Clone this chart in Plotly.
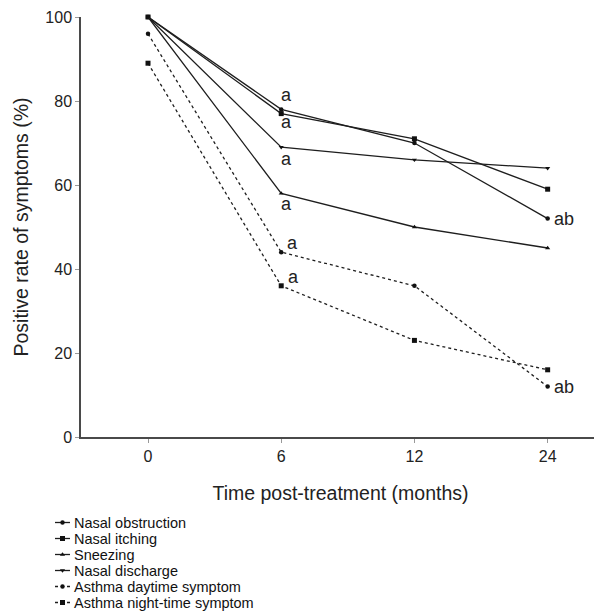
import plotly.graph_objects as go

months = ["0", "6", "12", "24"]
series_names = ["Nasal obstruction", "Nasal itching", "Sneezing", "Nasal discharge",
                "Asthma daytime symptom", "Asthma night-time symptom"]
nasal_obstruction = [100, 78, 70, 52]
nasal_itching = [100, 77, 71, 59]
sneezing = [100, 58, 50, 45]
nasal_discharge = [100, 69, 66, 64]
asthma_daytime = [96, 44, 36, 12]
asthma_night = [89, 36, 23, 16]

# significance labels: (category index, y value, text)
sig_labels = [(1, 81.4, "a"), (1, 75, "a"), (1, 66.2, "a"), (1, 55.5, "a"),
              (1, 46.2, "a"), (1, 38.1, "a"), (3, 52, "ab"), (3, 12, "ab")]
sig_xshift = [5, 5, 5, 5, 11, 12, 16, 16]

values = [nasal_obstruction, nasal_itching, sneezing, nasal_discharge, asthma_daytime, asthma_night]
symbols = ["circle", "square", "triangle-up", "triangle-down", "circle", "square"]
msizes = [4.5, 5, 4.5, 4.5, 4.5, 5]
dashes = ["solid", "solid", "solid", "solid", "dot", "dot"]

# the page places the figure 8px from the top-left corner of the window
OFF = 8
W, H = 602 - OFF, 612 - OFF
FONT = "Liberation Sans, Arial, sans-serif"
fig = go.Figure()
for name, vals, sym, ms, dash in zip(series_names, values, symbols, msizes, dashes):
    fig.add_trace(go.Scatter(
        x=months, y=vals, name=name, mode="lines+markers",
        line=dict(color="#1e1e1e", width=1.3, dash=dash),
        marker=dict(symbol=sym, size=ms, color="#111111"),
        cliponaxis=False, showlegend=False, xaxis="x", yaxis="y",
    ))

for (mx, my, txt), xs in zip(sig_labels, sig_xshift):
    fig.add_annotation(x=mx, y=my, xref="x", yref="y", text=txt, showarrow=False, xshift=xs,
                       xanchor="center", yanchor="middle",
                       font=dict(size=18, color="#222", family=FONT))

# compact legend drawn in a window-pixel-scaled helper subplot at the bottom
leg_rows = [522.5, 538.5, 554.5, 570.5, 586.5, 602.5]
for name, sym, ms, dash, ry in zip(series_names, symbols, msizes, dashes, leg_rows):
    fig.add_trace(go.Scatter(
        x=[55, 63, 70], y=[ry, ry, ry], mode="lines", showlegend=False,
        line=dict(color="#1e1e1e", width=1.3, dash=dash), xaxis="x2", yaxis="y2",
        hoverinfo="skip"))
    fig.add_trace(go.Scatter(
        x=[62.5], y=[ry], mode="markers", showlegend=False,
        marker=dict(symbol=sym, size=ms, color="#111"), xaxis="x2", yaxis="y2",
        hoverinfo="skip"))
    fig.add_annotation(x=71.5, y=ry, xref="x2", yref="y2", text=name, showarrow=False,
                       xanchor="left", yanchor="middle",
                       font=dict(size=14.5, color="#111", family=FONT))

fig.update_layout(
    width=W, height=H, autosize=False,
    margin=dict(l=0, r=0, t=0, b=0),
    paper_bgcolor="white", plot_bgcolor="rgba(0,0,0,0)",
    font=dict(family=FONT, color="#222", size=16),
    showlegend=False,
    xaxis=dict(type="category", domain=[(81 - OFF) / W, (600 - OFF) / W], anchor="y",
               range=[-0.503, 3.393], showline=True, linecolor="#4a4a4a",
               linewidth=1.5, ticks="outside", ticklen=4, tickcolor="#999",
               showgrid=False, zeroline=False, tickfont=dict(size=16, color="#222"),
               automargin=False,
               title=dict(text="Time post-treatment (months)", font=dict(size=19.5), standoff=22)),
    yaxis=dict(domain=[(612 - 437) / H, (612 - 17) / H], anchor="x",
               range=[0, 100], showline=True, linecolor="#4a4a4a", linewidth=1.5,
               ticks="outside", ticklen=4, tickcolor="#999", tickvals=[0, 20, 40, 60, 80, 100],
               showgrid=False, zeroline=False, tickfont=dict(size=16, color="#222"),
               automargin=False,
               title=dict(text="Positive rate of symptoms (%)", font=dict(size=19.5), standoff=12)),
    xaxis2=dict(domain=[0, 1], range=[OFF, 602], anchor="y2", visible=False, fixedrange=True),
    yaxis2=dict(domain=[0, 100 / H], range=[612, 512], anchor="x2", visible=False,
                fixedrange=True),
)

fig.write_html("out.html")
